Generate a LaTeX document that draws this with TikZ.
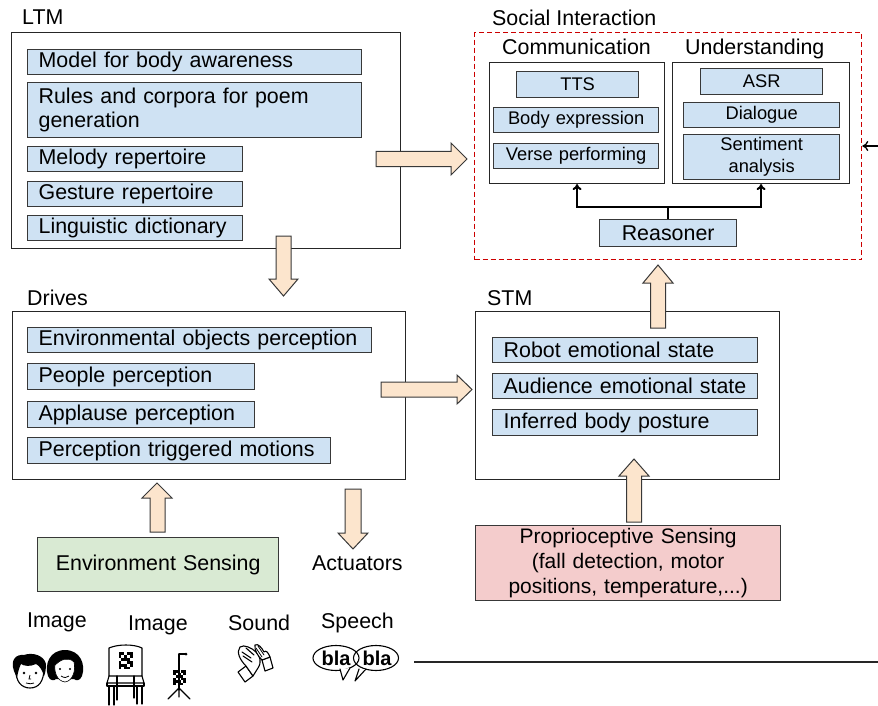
\documentclass[tikz,border=0pt]{standalone}
\usepackage{fontspec}
\setmainfont{Liberation Sans}
\usetikzlibrary{arrows.meta}

\definecolor{itemblue}{HTML}{CFE2F3}
\definecolor{peach}{HTML}{FCE5CD}
\definecolor{sensegreen}{HTML}{D9EAD3}
\definecolor{sensepink}{HTML}{F4CCCC}
\definecolor{dashred}{HTML}{CC0000}
\definecolor{edgegray}{HTML}{383838}

\newcommand\lgtxt{\fontsize{21.4}{24.5}\selectfont}
\newcommand\smtxt{\fontsize{18.3}{22}\selectfont}

\tikzset{
  container/.style={draw=black!85, line width=1.1pt, anchor=north west, inner sep=0pt},
  item/.style={draw=edgegray, fill=itemblue, line width=1.3pt, anchor=north west,
    inner xsep=11pt, inner ysep=0pt, align=left, font=\lgtxt},
  citem/.style={item, align=center, inner xsep=0pt, font=\smtxt},
  sense/.style={draw=edgegray, line width=1.3pt, anchor=north west, inner sep=0pt,
    align=center, font=\lgtxt},
  title/.style={anchor=base west, font=\lgtxt, inner sep=0pt},
  blockarrow/.style={draw=edgegray, fill=peach, line width=1pt, line join=miter},
  conn/.style={line width=2pt, draw=black},
  icon/.style={line width=1.1pt, line join=round, line cap=round},
}

% small square-code pattern used on the tagged objects
\newcommand\codepatch[3]{%
  \foreach \i/\j in {0/0,1/0,3/0,4/0,0/1,2/1,4/1,1/2,2/2,3/2,0/3,3/3,4/3,0/4,1/4,2/4,4/4,2/5,3/5,0/5}
    {\fill (#1+\i*#3,#2+\j*#3) rectangle ++(#3,#3);}%
}

\begin{document}
\begin{tikzpicture}[x=1pt,y=-1pt]
\useasboundingbox (0,0) rectangle (878,706);

% ---------------- LTM ----------------
\node[title] (ltmt) at (22,25) {LTM};
\node[container, minimum width=389.5pt, minimum height=216pt] (ltm) at (10.5,32) {};
\node[item, text width=312pt, minimum height=25pt] (m1) at (27,49) {Model for body awareness};
\node[item, text width=312pt, minimum height=55pt] (m2) at (27,82) {Rules and corpora for poem\\generation};
\node[item, text width=193pt, minimum height=25pt] (m3) at (27,146) {Melody repertoire};
\node[item, text width=193pt, minimum height=25pt] (m4) at (27,181) {Gesture repertoire};
\node[item, text width=193pt, minimum height=25pt] (m5) at (27,215) {Linguistic dictionary};

% ---------------- Social interaction ----------------
\node[title] (sit) at (492,26) {Social Interaction};
\node[draw=dashred, line width=1.3pt, dash pattern=on 5pt off 3pt, anchor=north west,
      inner sep=0pt, minimum width=387pt, minimum height=227pt] (social) at (474,32) {};
\node[title] (commt) at (502,55) {Communication};
\node[title] (undt) at (685,55) {Understanding};
\node[container, minimum width=175pt, minimum height=121pt] (comm) at (489,62) {};
\node[container, minimum width=177pt, minimum height=121pt] (und) at (672,62) {};
\node[citem, text width=122pt, minimum height=26pt] (tts) at (516,71) {TTS};
\node[citem, text width=165pt, minimum height=25pt] (body) at (493,107) {Body expression};
\node[citem, text width=165pt, minimum height=25pt] (verse) at (493,143) {Verse performing};
\node[citem, text width=122pt, minimum height=26pt] (asr) at (700,68) {ASR};
\node[citem, text width=156pt, minimum height=25pt] (dial) at (683,102) {Dialogue};
\node[citem, text width=156pt, minimum height=45pt] (sent) at (683,134) {Sentiment\\analysis};
\node[citem, font=\lgtxt, text width=137pt, minimum height=27pt] (reason) at (599,219) {Reasoner};

\coordinate (split) at ([yshift=12pt]reason.north);
\draw[conn] (reason.north) -- (split);
\draw[conn, -{To[length=6pt,width=9pt]}] (split) -| (comm.south);
\draw[conn, -{To[length=6pt,width=9pt]}] (split) -| (und.south);

% input entering from the right edge
\coordinate (rin) at (878,146);
\draw[line width=1.3pt, -{To[length=6pt,width=10pt]}] (rin) -- (rin -| social.east);

% ---------------- Drives ----------------
\node[title] (drt) at (27,305) {Drives};
\node[container, minimum width=393pt, minimum height=168pt] (drives) at (12,311) {};
\node[item, text width=322pt, minimum height=25pt] (d1) at (27,327) {Environmental objects perception};
\node[item, text width=205pt, minimum height=26pt] (d2) at (27,363) {People perception};
\node[item, text width=205pt, minimum height=26pt] (d3) at (27,401) {Applause perception};
\node[item, text width=281pt, minimum height=26pt] (d4) at (27,437) {Perception triggered motions};

% ---------------- STM ----------------
\node[title] (stmt) at (487,305) {STM};
\node[container, minimum width=304pt, minimum height=168pt] (stm) at (475,311) {};
\node[item, text width=243pt, minimum height=25pt] (s1) at (492,337) {Robot emotional state};
\node[item, text width=243pt, minimum height=25pt] (s2) at (492,373) {Audience emotional state};
\node[item, text width=243pt, minimum height=26pt] (s3) at (492,409) {Inferred body posture};

% ---------------- Sensing and actuation ----------------
\node[sense, fill=sensegreen, text width=241pt, minimum height=54pt] (env) at (37,537) {Environment Sensing};
\node[sense, fill=sensepink, text width=305pt, minimum height=75pt, font=\fontsize{21}{25}\selectfont]
  (prop) at (475,525) {Proprioceptive Sensing\\(fall detection, motor\\positions, temperature,...)};
\node[title] (act) at (312,570) {Actuators};

% ---------------- Block arrows ----------------
% LTM -> Social interaction
\draw[blockarrow] (376,151.5) -- (451,151.5) -- (451,143) -- (467,159) -- (451,175) -- (451,166.5) -- (376,166.5) -- cycle;
% LTM -> Drives
\draw[blockarrow] (276,236) -- (291,236) -- (291,279) -- (298,279) -- (283.5,296) -- (269,279) -- (276,279) -- cycle;
% Drives -> STM
\draw[blockarrow] (381,382) -- (457,382) -- (457,375) -- (472,389.5) -- (457,404) -- (457,397) -- (381,397) -- cycle;
% STM -> Social interaction
\draw[blockarrow] (650.5,328) -- (650.5,283) -- (643,283) -- (658,265) -- (673,283) -- (665.5,283) -- (665.5,328) -- cycle;
% Proprioceptive sensing -> STM
\draw[blockarrow] (626.5,522) -- (626.5,476) -- (619,476) -- (634,459) -- (649,476) -- (641.5,476) -- (641.5,522) -- cycle;
% Environment sensing -> Drives
\draw[blockarrow] (150,532) -- (150,498) -- (142,498) -- (157,483) -- (172,498) -- (165,498) -- (165,532) -- cycle;
% Drives -> Actuators
\draw[blockarrow] (345,489) -- (361,489) -- (361,533) -- (368,533) -- (353,549) -- (338,533) -- (345,533) -- cycle;

% ---------------- Perceived stimuli ----------------
\node[title] (img1) at (27,627) {Image};
\node[title] (img2) at (128,630) {Image};
\node[title] (snd) at (228,630) {Sound};
\node[title] (sp) at (321,628) {Speech};

% boy face
\draw[icon] (16,668) .. controls (15,682) and (22,688) .. (30,688) .. controls (39,688) and (44,681) .. (44,668);
\fill (14,671) .. controls (10,660) and (16,654) .. (24,655) .. controls (32,652) and (44,655) .. (46,664)
  .. controls (46,670) and (45,674) .. (44,676) .. controls (42,670) and (40,666) .. (36,664)
  .. controls (30,667) and (24,666) .. (21,664) .. controls (19,668) and (18,672) .. (17,678) -- cycle;
\fill (24,673) circle (1.3); \fill (36,673) circle (1.3);
\draw[line width=0.8pt] (30,675) -- (29,679) -- (31,679);
\draw[line width=0.8pt] (26,683) .. controls (29,684) and (32,684) .. (34,683);

% girl face
\fill (48,676) .. controls (44,664) and (50,650) .. (65,650) .. controls (80,650) and (86,664) .. (82,676)
  .. controls (80,681) and (76,681) .. (74,679) -- (56,679) .. controls (54,681) and (50,681) .. (48,676) -- cycle;
\filldraw[fill=white, line width=0.6pt] (55,665) .. controls (60,660) and (68,656) .. (74,662)
  .. controls (76,670) and (73,681) .. (65,682) .. controls (57,681) and (54,672) .. (55,665) -- cycle;
\fill (60,669) circle (1.2); \fill (70,669) circle (1.2);
\draw[line width=0.8pt] (61,676) .. controls (64,678) and (67,678) .. (69,676);

% chair with code tag
\draw[icon] (109,648) .. controls (118,644) and (134,644) .. (142,648)
  -- (142,676) -- (109,676) -- cycle;
\draw[icon] (109,676) -- (107,683) -- (144,683) -- (142,676);
\draw[icon] (107,683) -- (107,686) -- (144,686) -- (144,683);
\draw[icon] (109,686) -- (109,705) (114,686) -- (114,705) (137,686) -- (137,704) (142,686) -- (142,704);
\draw[icon] (117,676) -- (117,700) (134,676) -- (134,698);
\codepatch{118.5}{652}{2.9}

% tag on a tripod stand
\draw[icon] (179,654) -- (179,690);
\draw[icon] (179,654) -- (186,654);
\fill (186,654) circle (1.5);
\codepatch{173}{670}{2.5}
\draw[icon] (179,688) -- (168,699) (179,688) -- (190,699) (179,688) -- (179,697);

% clapping hands
\begin{scope}[icon]
  \filldraw[fill=white] (238,672) -- (246,666) -- (253,676) -- (245,682) -- cycle;
  \filldraw[fill=white] (246,666) .. controls (240,660) and (236,652) .. (240,647)
    .. controls (244,644) and (252,648) .. (256,652) .. controls (260,656) and (262,662) .. (258,668)
    -- (253,676) -- cycle;
  \draw (242,652) -- (251,658) (243,656) -- (252,662) (246,648) -- (254,655);
  \filldraw[fill=white] (262,660) -- (270,657) -- (273,668) -- (265,671) -- cycle;
  \filldraw[fill=white] (262,660) .. controls (258,656) and (254,650) .. (255,645)
    .. controls (258,643) and (262,648) .. (264,652) .. controls (266,650) and (268,652) .. (270,657) -- cycle;
  \draw[line width=0.8pt] (256,648) -- (262,657) (258,646) -- (264,655);
\end{scope}

% speech bubbles
\draw[icon] (336,658) ellipse (23 and 12.5);
\draw[icon] (376,658) ellipse (22.5 and 12.5);
\filldraw[icon, fill=white] (340,669) -- (343,680) -- (350,668);
\filldraw[icon, fill=white] (359,669) -- (355,681) -- (366,669);
\node[font=\fontsize{20}{22}\selectfont\bfseries, inner sep=0pt] (bla1) at (336,658) {bla};
\node[font=\fontsize{20}{22}\selectfont\bfseries, inner sep=0pt] (bla2) at (377,658) {bla};

% baseline rule
\coordinate (ruleL) at (414,662);
\coordinate (ruleR) at (878,662);
\draw[line width=2pt, draw=black!85] (ruleL) -- (ruleR);

\end{tikzpicture}
\end{document}
